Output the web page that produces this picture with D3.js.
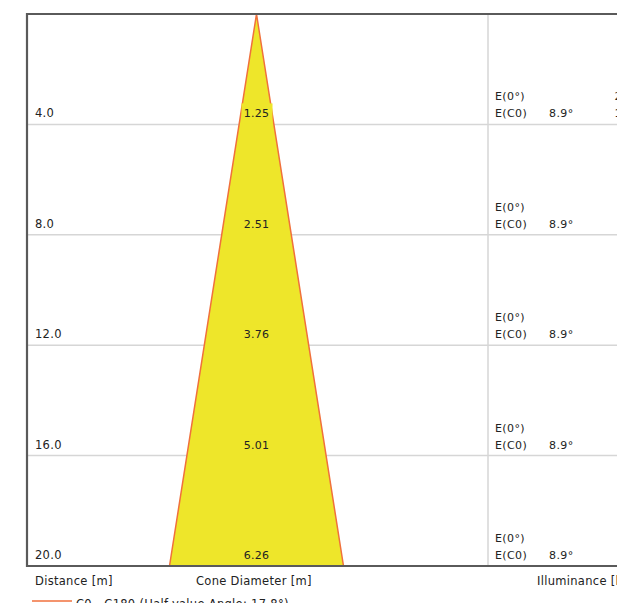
<!DOCTYPE html>
<html><head><meta charset="utf-8">
<script src="https://cdn.jsdelivr.net/npm/d3@7"></script>
<style>body{margin:0;background:#fff}svg{display:block}text{font-family:"DejaVu Sans",sans-serif;fill:#222}</style>
</head><body>
<script>
const distances = [4.0, 8.0, 12.0, 16.0, 20.0];
const diameters = [1.25, 2.51, 3.76, 5.01, 6.26];
const halfAngle = ["8.9°", "8.9°", "8.9°", "8.9°", "8.9°"];
const E0 = [250.0, 62.5, 27.8, 15.6, 10.0];
const EC0 = [125.0, 31.3, 13.9, 7.8, 5.0];
const axisLabels = ["Distance [m]", "Cone Diameter [m]", "Illuminance [lx]"];
const legendLabel = "C0 - C180 (Half-value Angle: 17.8°)";

const W = 617, H = 603;
const svg = d3.select("body").append("svg").attr("width", W).attr("height", H);
const mLeft = 27, mTop = 14, mBottom = 566, divX = 488, rightEdge = 700;
const cx = 256.5;
const y = d3.scaleLinear().domain([0, 20]).range([mTop, mBottom]);
const x = d3.scaleLinear().domain([-3.13, 3.13]).range([cx - 87, cx + 87]);

// grid lines
svg.selectAll("line.grid").data(distances.slice(0, -1)).join("line")
  .attr("x1", mLeft).attr("x2", rightEdge)
  .attr("y1", d => y(d)).attr("y2", d => y(d))
  .attr("stroke", "#d6d6d6").attr("stroke-width", 1.5);
// divider
svg.append("line").attr("x1", divX).attr("x2", divX).attr("y1", mTop).attr("y2", mBottom)
  .attr("stroke", "#d6d6d6").attr("stroke-width", 1.5);

// cone
const dMax = distances[distances.length - 1], diaMax = diameters[diameters.length - 1];
svg.append("path")
  .attr("d", d3.line()([[x(0), y(0)], [x(-diaMax / 2), y(dMax)], [x(diaMax / 2), y(dMax)]]) + "Z")
  .attr("fill", "#eee62a").attr("stroke", "none");
svg.append("path")
  .attr("d", d3.line()([[x(-diaMax / 2), y(dMax)], [x(0), y(0)], [x(diaMax / 2), y(dMax)]]))
  .attr("fill", "none").attr("stroke", "#f0703c").attr("stroke-width", 1.5);

// frame
svg.append("path")
  .attr("d", `M${rightEdge},${mTop}H${mLeft}V${mBottom}H${rightEdge}`)
  .attr("fill", "none").attr("stroke", "#5a5a5a").attr("stroke-width", 2.2);

// row labels
const rows = svg.selectAll("g.row").data(distances).join("g");
rows.append("text").attr("x", 35).attr("y", d => y(d) - 7)
  .attr("font-size", 11.5).attr("letter-spacing", 0.3).text(d => d.toFixed(1));
rows.append("rect")
  .attr("x", cx - 15).attr("y", d => y(d) - 21).attr("width", 31).attr("height", 20)
  .attr("fill", "#eee62a");
rows.append("text").attr("x", cx).attr("y", d => y(d) - 7).attr("text-anchor", "middle")
  .attr("font-size", 11).attr("letter-spacing", 0.2).text((d, i) => diameters[i].toFixed(2));
rows.append("text").attr("x", 495).attr("y", d => y(d) - 24)
  .attr("font-size", 11).attr("letter-spacing", 0.4).text("E(0°)");
rows.append("text").attr("x", 495).attr("y", d => y(d) - 7)
  .attr("font-size", 11).attr("letter-spacing", 0.4).text("E(C0)");
rows.append("text").attr("x", 549).attr("y", d => y(d) - 7)
  .attr("font-size", 11).attr("letter-spacing", 0.4).text((d, i) => halfAngle[i]);
rows.append("text").attr("x", 648).attr("y", d => y(d) - 24).attr("text-anchor", "end")
  .attr("font-size", 11).attr("letter-spacing", 0.4).text((d, i) => E0[i].toFixed(1));
rows.append("text").attr("x", 648).attr("y", d => y(d) - 7).attr("text-anchor", "end")
  .attr("font-size", 11).attr("letter-spacing", 0.4).text((d, i) => EC0[i].toFixed(1));

// axis labels
svg.append("text").attr("x", 35).attr("y", 585).attr("font-size", 11.5).attr("letter-spacing", 0.3).text(axisLabels[0]);
svg.append("text").attr("x", 196).attr("y", 585).attr("font-size", 11.5).attr("letter-spacing", 0.3).text(axisLabels[1]);
svg.append("text").attr("x", 537).attr("y", 585).attr("font-size", 11.5).attr("letter-spacing", 0.3).text(axisLabels[2]);

// legend
svg.append("line").attr("x1", 32).attr("x2", 72).attr("y1", 601).attr("y2", 601)
  .attr("stroke", "#f0703c").attr("stroke-width", 1.5);
svg.append("text").attr("x", 76).attr("y", 608).attr("font-size", 11.5).attr("letter-spacing", 0.3).text(legendLabel);
</script>
</body></html>
